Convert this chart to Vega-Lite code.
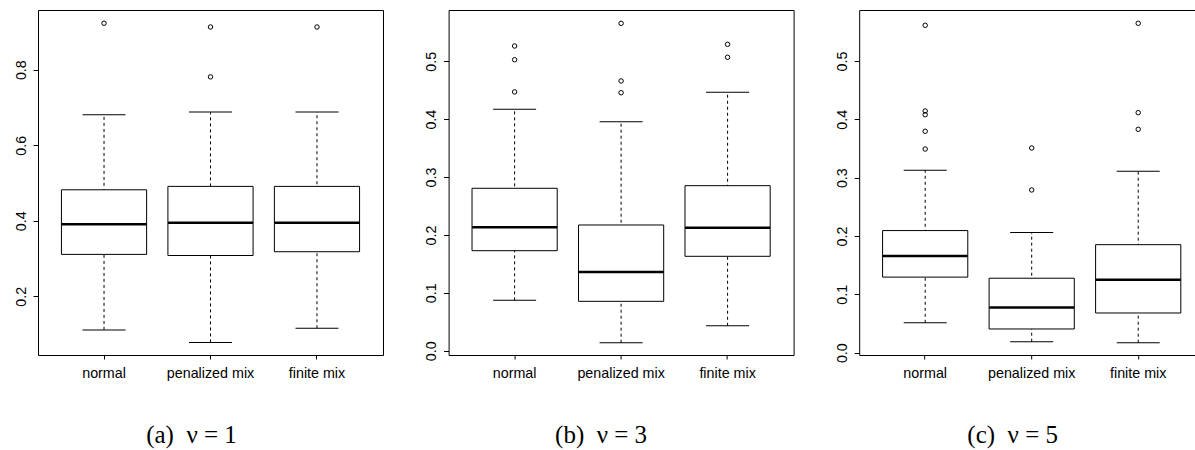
{
  "$schema": "https://vega.github.io/schema/vega-lite/v6.json",
  "background": "white",
  "padding": {"left": 13, "top": 9, "right": 0, "bottom": 0},
  "spacing": 65.6,
  "bounds": "flush",
  "config": {
    "view": {"stroke": "black", "strokeWidth": 1},
    "tick": {"opacity": 1},
    "axis": {"labelFont": "Liberation Sans", "labelFontSize": 14.3, "labelColor": "black", "tickColor": "black", "grid": false, "domain": false, "title": null},
    "title": {"font": "Liberation Serif", "fontSize": 25, "fontWeight": "normal", "color": "black"}
  },
  "datasets": {
    "s1": [
      {"g": "normal", "lo": 0.111, "q1": 0.311, "med": 0.391, "q3": 0.482, "hi": 0.681},
      {"g": "penalized mix", "lo": 0.078, "q1": 0.308, "med": 0.395, "q3": 0.491, "hi": 0.688},
      {"g": "finite mix", "lo": 0.1155, "q1": 0.318, "med": 0.395, "q3": 0.491, "hi": 0.688}
    ],
    "o1": [
      {"g": "normal", "v": 0.923},
      {"g": "penalized mix", "v": 0.913},
      {"g": "penalized mix", "v": 0.781},
      {"g": "finite mix", "v": 0.913}
    ],
    "s2": [
      {"g": "normal", "lo": 0.087, "q1": 0.1728, "med": 0.2132, "q3": 0.2806, "hi": 0.4171},
      {"g": "penalized mix", "lo": 0.0138, "q1": 0.0853, "med": 0.136, "q3": 0.2172, "hi": 0.3956},
      {"g": "finite mix", "lo": 0.0431, "q1": 0.1631, "med": 0.2125, "q3": 0.2851, "hi": 0.4464}
    ],
    "o2": [
      {"g": "normal", "v": 0.5264},
      {"g": "normal", "v": 0.5027},
      {"g": "normal", "v": 0.4471},
      {"g": "penalized mix", "v": 0.5656},
      {"g": "penalized mix", "v": 0.466},
      {"g": "penalized mix", "v": 0.4457},
      {"g": "finite mix", "v": 0.5293},
      {"g": "finite mix", "v": 0.5069}
    ],
    "s3": [
      {"g": "normal", "lo": 0.0512, "q1": 0.1295, "med": 0.1655, "q3": 0.2093, "hi": 0.3128},
      {"g": "penalized mix", "lo": 0.0188, "q1": 0.0406, "med": 0.0774, "q3": 0.1276, "hi": 0.2059},
      {"g": "finite mix", "lo": 0.0171, "q1": 0.068, "med": 0.1251, "q3": 0.1851, "hi": 0.3109}
    ],
    "o3": [
      {"g": "normal", "v": 0.5612},
      {"g": "normal", "v": 0.4143},
      {"g": "normal", "v": 0.4079},
      {"g": "normal", "v": 0.3795},
      {"g": "normal", "v": 0.3491},
      {"g": "penalized mix", "v": 0.3509},
      {"g": "penalized mix", "v": 0.2789},
      {"g": "finite mix", "v": 0.5646},
      {"g": "finite mix", "v": 0.4114},
      {"g": "finite mix", "v": 0.3829}
    ]
  },
  "hconcat": [
    {
      "width": 345, "height": 345,
      "title": {"text": "(a)\u00a0\u00a0ν\u00a0=\u00a01", "orient": "bottom", "anchor": "middle", "dx": -19, "offset": 63, "baseline": "alphabetic"},
      "encoding": {
        "x": {"field": "g", "type": "nominal", "sort": ["normal", "penalized mix", "finite mix"], "title": null,
              "scale": {"paddingInner": 0, "paddingOuter": 0.12},
              "axis": {"labelAngle": 0, "tickSize": 4, "labelPadding": 7}}
      },
      "layer": [
        {"data": {"name": "s1"}, "mark": {"type": "rule", "color": "black", "strokeWidth": 1, "strokeDash": [3, 3]},
         "encoding": {"y": {"field": "lo", "type": "quantitative", "title": null,
                            "scale": {"domain": [0.0446, 0.958], "nice": false, "zero": false},
                            "axis": {"values": [0.2, 0.4, 0.6, 0.8], "format": ".1f", "labelAngle": -90, "labelAlign": "center", "labelBaseline": "alphabetic", "tickSize": 5, "labelPadding": 8}},
                      "y2": {"field": "hi"}}},
        {"data": {"name": "s1"}, "mark": {"type": "tick", "color": "black", "size": 43, "thickness": 1, "opacity": 1}, "encoding": {"y": {"field": "lo", "type": "quantitative", "title": null}}},
        {"data": {"name": "s1"}, "mark": {"type": "tick", "color": "black", "size": 43, "thickness": 1, "opacity": 1}, "encoding": {"y": {"field": "hi", "type": "quantitative", "title": null}}},
        {"data": {"name": "s1"}, "mark": {"type": "bar", "fill": "white", "stroke": "black", "strokeWidth": 1, "width": {"band": 0.8}},
         "encoding": {"y": {"field": "q1", "type": "quantitative", "title": null}, "y2": {"field": "q3"}}},
        {"data": {"name": "s1"}, "mark": {"type": "tick", "color": "black", "size": 85, "thickness": 2.5, "opacity": 1}, "encoding": {"y": {"field": "med", "type": "quantitative", "title": null}}},
        {"data": {"name": "o1"}, "mark": {"type": "point", "shape": "circle", "filled": false, "color": "black", "size": 20, "strokeWidth": 1, "opacity": 1},
         "encoding": {"y": {"field": "v", "type": "quantitative", "title": null}}}
      ]
    },
    {
      "width": 345, "height": 345,
      "title": {"text": "(b)\u00a0\u00a0ν\u00a0=\u00a03", "orient": "bottom", "anchor": "middle", "dx": -20, "offset": 63, "baseline": "alphabetic"},
      "encoding": {
        "x": {"field": "g", "type": "nominal", "sort": ["normal", "penalized mix", "finite mix"], "title": null,
              "scale": {"paddingInner": 0, "paddingOuter": 0.12},
              "axis": {"labelAngle": 0, "tickSize": 4, "labelPadding": 7}}
      },
      "layer": [
        {"data": {"name": "s2"}, "mark": {"type": "rule", "color": "black", "strokeWidth": 1, "strokeDash": [3, 3]},
         "encoding": {"y": {"field": "lo", "type": "quantitative", "title": null,
                            "scale": {"domain": [-0.0074, 0.5886], "nice": false, "zero": false},
                            "axis": {"values": [0, 0.1, 0.2, 0.3, 0.4, 0.5], "format": ".1f", "labelAngle": -90, "labelAlign": "center", "labelBaseline": "alphabetic", "tickSize": 5, "labelPadding": 8}},
                      "y2": {"field": "hi"}}},
        {"data": {"name": "s2"}, "mark": {"type": "tick", "color": "black", "size": 43, "thickness": 1, "opacity": 1}, "encoding": {"y": {"field": "lo", "type": "quantitative", "title": null}}},
        {"data": {"name": "s2"}, "mark": {"type": "tick", "color": "black", "size": 43, "thickness": 1, "opacity": 1}, "encoding": {"y": {"field": "hi", "type": "quantitative", "title": null}}},
        {"data": {"name": "s2"}, "mark": {"type": "bar", "fill": "white", "stroke": "black", "strokeWidth": 1, "width": {"band": 0.8}},
         "encoding": {"y": {"field": "q1", "type": "quantitative", "title": null}, "y2": {"field": "q3"}}},
        {"data": {"name": "s2"}, "mark": {"type": "tick", "color": "black", "size": 85, "thickness": 2.5, "opacity": 1}, "encoding": {"y": {"field": "med", "type": "quantitative", "title": null}}},
        {"data": {"name": "o2"}, "mark": {"type": "point", "shape": "circle", "filled": false, "color": "black", "size": 20, "strokeWidth": 1, "opacity": 1},
         "encoding": {"y": {"field": "v", "type": "quantitative", "title": null}}}
      ]
    },
    {
      "width": 337, "height": 345,
      "title": {"text": "(c)\u00a0\u00a0ν\u00a0=\u00a05", "orient": "bottom", "anchor": "middle", "dx": -15, "offset": 63, "baseline": "alphabetic"},
      "encoding": {
        "x": {"field": "g", "type": "nominal", "sort": ["normal", "penalized mix", "finite mix"], "title": null,
              "scale": {"paddingInner": 0, "paddingOuter": 0.082, "align": 0.729},
              "axis": {"labelAngle": 0, "tickSize": 4, "labelPadding": 7}}
      },
      "layer": [
        {"data": {"name": "s3"}, "mark": {"type": "rule", "color": "black", "strokeWidth": 1, "strokeDash": [3, 3]},
         "encoding": {"y": {"field": "lo", "type": "quantitative", "title": null,
                            "scale": {"domain": [-0.004, 0.5874], "nice": false, "zero": false},
                            "axis": {"values": [0, 0.1, 0.2, 0.3, 0.4, 0.5], "format": ".1f", "labelAngle": -90, "labelAlign": "center", "labelBaseline": "alphabetic", "tickSize": 5, "labelPadding": 8}},
                      "y2": {"field": "hi"}}},
        {"data": {"name": "s3"}, "mark": {"type": "tick", "color": "black", "size": 43, "thickness": 1, "opacity": 1}, "encoding": {"y": {"field": "lo", "type": "quantitative", "title": null}}},
        {"data": {"name": "s3"}, "mark": {"type": "tick", "color": "black", "size": 43, "thickness": 1, "opacity": 1}, "encoding": {"y": {"field": "hi", "type": "quantitative", "title": null}}},
        {"data": {"name": "s3"}, "mark": {"type": "bar", "fill": "white", "stroke": "black", "strokeWidth": 1, "width": {"band": 0.8}},
         "encoding": {"y": {"field": "q1", "type": "quantitative", "title": null}, "y2": {"field": "q3"}}},
        {"data": {"name": "s3"}, "mark": {"type": "tick", "color": "black", "size": 85, "thickness": 2.5, "opacity": 1}, "encoding": {"y": {"field": "med", "type": "quantitative", "title": null}}},
        {"data": {"name": "o3"}, "mark": {"type": "point", "shape": "circle", "filled": false, "color": "black", "size": 20, "strokeWidth": 1, "opacity": 1},
         "encoding": {"y": {"field": "v", "type": "quantitative", "title": null}}}
      ]
    }
  ]
}
